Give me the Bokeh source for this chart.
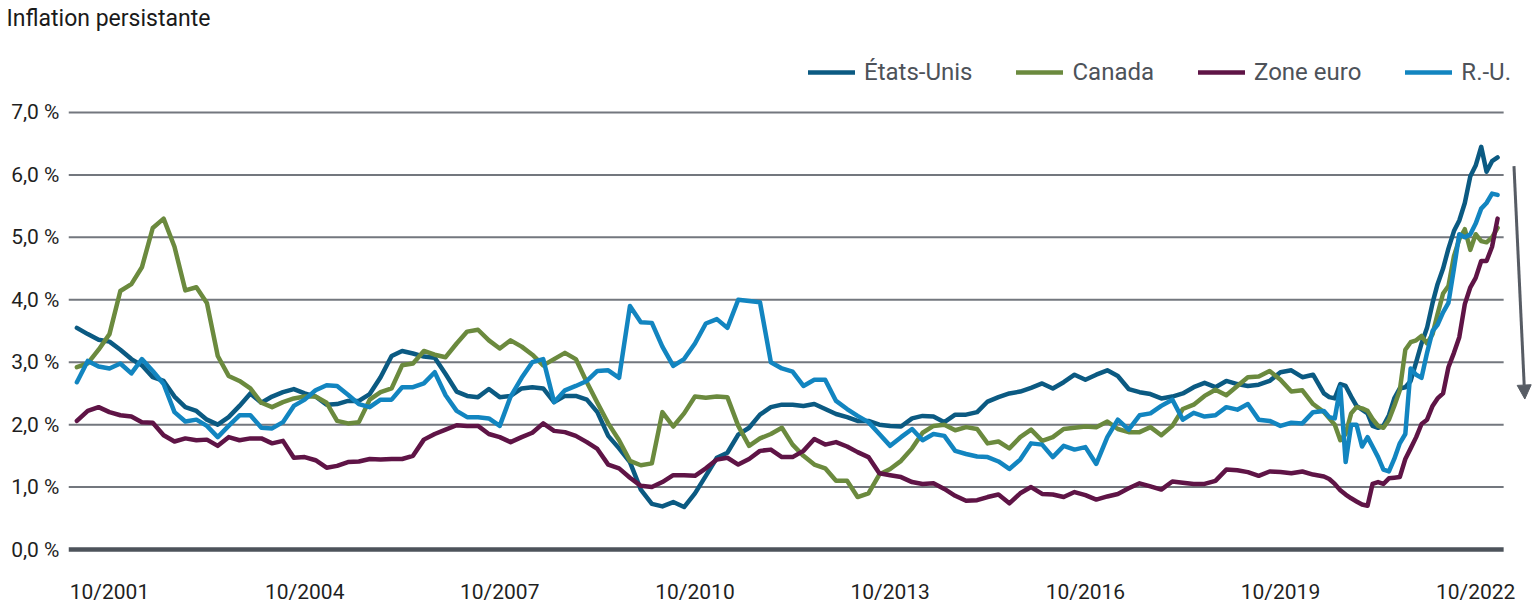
import pandas as pd
from bokeh.plotting import figure
from bokeh.models import (Range1d, FixedTicker, DatetimeTickFormatter,
                          Arrow, NormalHead)
from bokeh.embed import file_html
from bokeh.resources import INLINE

# dates: every 2 months up to 04/2020, then monthly to 02/2023
dates = (list(pd.date_range("2001-04-01", "2020-04-01", freq="2MS"))
         + list(pd.date_range("2020-06-01", "2023-02-01", freq="MS")))

etats_unis = [
    3.55, 3.45, 3.36, 3.33, 3.20, 3.05, 2.95, 2.76, 2.70, 2.45,
    2.28, 2.22, 2.08, 2.00, 2.12, 2.30, 2.50, 2.35, 2.45, 2.52,
    2.57, 2.50, 2.45, 2.32, 2.33, 2.38, 2.38, 2.49, 2.76, 3.10,
    3.18, 3.14, 3.09, 3.07, 2.81, 2.53, 2.46, 2.44, 2.57, 2.44,
    2.46, 2.58, 2.60, 2.58, 2.36, 2.46, 2.46, 2.40, 2.20, 1.82,
    1.62, 1.40, 0.96, 0.73, 0.69, 0.76, 0.68, 0.90, 1.18, 1.47,
    1.55, 1.84, 1.95, 2.16, 2.28, 2.32, 2.32, 2.30, 2.33, 2.25,
    2.17, 2.12, 2.06, 2.06, 2.00, 1.98, 1.97, 2.10, 2.14, 2.13,
    2.04, 2.16, 2.16, 2.20, 2.37, 2.44, 2.50, 2.53, 2.59, 2.66,
    2.58, 2.68, 2.80, 2.72, 2.80, 2.87, 2.78, 2.57, 2.52, 2.49,
    2.42, 2.45, 2.50, 2.60, 2.67, 2.60, 2.70, 2.65, 2.62, 2.64,
    2.70, 2.84, 2.87, 2.76, 2.80,
    2.50, 2.44, 2.42, 2.65, 2.62, 2.45, 2.30, 2.24, 2.18, 1.98,
    1.95, 1.98, 2.15, 2.42, 2.58, 2.60, 2.70, 3.00, 3.30, 3.55,
    3.95, 4.25, 4.50, 4.82, 5.10, 5.27, 5.55, 5.98, 6.15, 6.45,
    6.05, 6.22, 6.28,
]

canada = [
    2.92, 2.98, 3.20, 3.45, 4.14, 4.25, 4.52, 5.15, 5.30, 4.85,
    4.15, 4.20, 3.95, 3.10, 2.78, 2.70, 2.58, 2.35, 2.28, 2.36,
    2.42, 2.45, 2.45, 2.35, 2.06, 2.02, 2.04, 2.40, 2.52, 2.58,
    2.95, 2.98, 3.18, 3.12, 3.08, 3.30, 3.49, 3.52, 3.35, 3.22,
    3.35, 3.25, 3.12, 2.95, 3.05, 3.15, 3.05, 2.68, 2.35, 2.02,
    1.75, 1.42, 1.35, 1.38, 2.20, 1.97, 2.18, 2.45, 2.43, 2.45,
    2.44, 1.98, 1.66, 1.78, 1.85, 1.95, 1.68, 1.50, 1.36, 1.30,
    1.10, 1.10, 0.84, 0.90, 1.20, 1.29, 1.42, 1.62, 1.87, 1.98,
    2.00, 1.91, 1.96, 1.93, 1.70, 1.73, 1.62, 1.80, 1.92, 1.74,
    1.80, 1.93, 1.95, 1.97, 1.96, 2.05, 1.93, 1.88, 1.88, 1.96,
    1.83, 1.98, 2.25, 2.32, 2.46, 2.56, 2.47, 2.62, 2.76, 2.77,
    2.86, 2.72, 2.53, 2.55, 2.33,
    2.20, 2.10, 2.00, 1.75, 1.85, 2.18, 2.28, 2.26, 2.22, 2.09,
    1.98, 1.95, 2.08, 2.30, 2.55, 3.20, 3.32, 3.35, 3.42, 3.30,
    3.45, 3.77, 4.10, 4.22, 4.70, 4.97, 5.13, 4.80, 5.05, 4.94,
    4.92, 5.00, 5.15,
]

zone_euro = [
    2.06, 2.22, 2.28, 2.20, 2.15, 2.13, 2.04, 2.03, 1.83, 1.73,
    1.78, 1.75, 1.76, 1.66, 1.80, 1.75, 1.78, 1.78, 1.70, 1.74,
    1.47, 1.48, 1.43, 1.31, 1.34, 1.40, 1.41, 1.45, 1.44, 1.45,
    1.45, 1.50, 1.76, 1.85, 1.92, 1.99, 1.98, 1.98, 1.85, 1.80,
    1.72, 1.80, 1.87, 2.02, 1.90, 1.88, 1.82, 1.72, 1.61, 1.36,
    1.30, 1.15, 1.02, 1.00, 1.08, 1.19, 1.19, 1.18, 1.30, 1.44,
    1.47, 1.36, 1.45, 1.58, 1.60, 1.48, 1.48, 1.58, 1.77, 1.68,
    1.72, 1.65, 1.56, 1.48, 1.22, 1.19, 1.16, 1.08, 1.05, 1.06,
    0.97, 0.86, 0.78, 0.79, 0.84, 0.88, 0.74, 0.90, 1.00, 0.89,
    0.88, 0.84, 0.92, 0.87, 0.80, 0.85, 0.89, 0.98, 1.06, 1.01,
    0.96, 1.09, 1.07, 1.05, 1.05, 1.10, 1.28, 1.27, 1.24, 1.18,
    1.25, 1.24, 1.22, 1.25, 1.20,
    1.17, 1.13, 1.05, 0.95, 0.88, 0.82, 0.77, 0.72, 0.70, 1.05,
    1.08, 1.05, 1.14, 1.15, 1.16, 1.45, 1.62, 1.80, 2.01, 2.08,
    2.30, 2.42, 2.50, 2.92, 3.15, 3.40, 3.93, 4.20, 4.35, 4.62,
    4.62, 4.85, 5.30,
]

royaume_uni = [
    2.68, 3.02, 2.93, 2.90, 2.98, 2.82, 3.05, 2.86, 2.65, 2.20,
    2.05, 2.08, 1.98, 1.80, 1.98, 2.15, 2.15, 1.95, 1.94, 2.04,
    2.30, 2.40, 2.55, 2.63, 2.62, 2.48, 2.33, 2.28, 2.40, 2.40,
    2.60, 2.60, 2.66, 2.84, 2.47, 2.22, 2.12, 2.12, 2.10, 1.98,
    2.45, 2.75, 3.00, 3.05, 2.36, 2.55, 2.62, 2.70, 2.86, 2.87,
    2.75, 3.90, 3.64, 3.63, 3.25, 2.94, 3.05, 3.30, 3.62, 3.69,
    3.55, 4.00, 3.98, 3.96, 3.00, 2.90, 2.85, 2.62, 2.72, 2.72,
    2.38, 2.25, 2.14, 2.04, 1.85, 1.66, 1.80, 1.93, 1.75, 1.85,
    1.82, 1.58, 1.53, 1.49, 1.48, 1.41, 1.29, 1.44, 1.70, 1.68,
    1.48, 1.66, 1.60, 1.64, 1.37, 1.80, 2.08, 1.92, 2.15, 2.18,
    2.30, 2.40, 2.08, 2.19, 2.13, 2.15, 2.28, 2.24, 2.33, 2.08,
    2.06, 1.98, 2.03, 2.02, 2.20,
    2.22, 2.12, 2.10, 2.60, 1.40, 2.00, 2.00, 1.65, 1.80, 1.65,
    1.48, 1.28, 1.25, 1.45, 1.70, 1.85, 2.90, 2.80, 2.75, 3.15,
    3.50, 3.60, 3.80, 3.95, 4.50, 5.05, 5.00, 5.05, 5.22, 5.46,
    5.55, 5.70, 5.68,
]

series_names = ["États-Unis", "Canada", "Zone euro", "R.-U."]
series_values = [etats_unis, canada, zone_euro, royaume_uni]
series_colors = ["#0b5a82", "#6b8a3e", "#5f1446", "#1285c0"]

y_ticks = [0, 1, 2, 3, 4, 5, 6, 7]
y_tick_labels = ["0,0 %", "1,0 %", "2,0 %", "3,0 %", "4,0 %", "5,0 %", "6,0 %", "7,0 %"]
x_tick_dates = pd.to_datetime(["2001-10-01", "2004-10-01", "2007-10-01", "2010-10-01",
                               "2013-10-01", "2016-10-01", "2019-10-01", "2022-10-01"])

# horizontal extent of the frame and of the grid lines
x_start = pd.Timestamp("2001-02-13")
grid_end = pd.Timestamp("2023-03-07")
x_end = pd.Timestamp("2023-08-16")

FONT = "Roboto"
GRID = "#73777e"
ARROW = "#575c64"

p = figure(width=1532, height=614, x_axis_type="datetime",
           x_range=Range1d(x_start, x_end),
           y_range=Range1d(-0.112, 8.281),
           output_backend="svg", toolbar_location=None,
           min_border_left=68, min_border_right=0,
           min_border_top=32, min_border_bottom=58)

p.title.text = "Inflation persistante"
p.title.text_font = FONT
p.title.text_font_size = "23px"
p.title.text_font_style = "normal"
p.title.text_color = "#1a1a1a"
p.title.align = "left"
p.title.offset = -62
p.title.standoff = 2

# horizontal grid lines, stopping before the arrow
p.segment(x0=[x_start] * 7, x1=[grid_end] * 7, y0=y_ticks[1:], y1=y_ticks[1:],
          line_color=GRID, line_width=2)

for name, vals, col in zip(series_names, series_values, series_colors):
    p.line(dates, vals, color=col, line_width=4.5, line_join="round",
           line_cap="round", legend_label=name)

# baseline at zero
p.segment(x0=[x_start], x1=[grid_end], y0=[0], y1=[0],
          line_color="#4d535b", line_width=4.5)

# arrow on the right
p.add_layout(Arrow(end=NormalHead(size=14, fill_color=ARROW, line_color=ARROW),
                   x_start=pd.Timestamp("2023-05-04").timestamp() * 1000, y_start=6.14,
                   x_end=pd.Timestamp("2023-07-04").timestamp() * 1000, y_end=2.41,
                   line_color=ARROW, line_width=3))

p.xgrid.grid_line_color = None
p.ygrid.grid_line_color = None

p.yaxis.ticker = FixedTicker(ticks=y_ticks)
p.yaxis.major_label_overrides = dict(zip(y_ticks, y_tick_labels))
p.xaxis.ticker = FixedTicker(ticks=[d.timestamp() * 1000 for d in x_tick_dates])
p.xaxis.formatter = DatetimeTickFormatter(years="%m/%Y", months="%m/%Y", days="%m/%Y",
                                          hours="%m/%Y", minutes="%m/%Y")
for ax in (p.xaxis, p.yaxis):
    ax.axis_line_color = None
    ax.major_tick_line_color = None
    ax.minor_tick_line_color = None
    ax.major_tick_out = 0
    ax.major_tick_in = 0
    ax.minor_tick_out = 0
    ax.minor_tick_in = 0
    ax.axis_label_standoff = 0
    ax.major_label_text_font = FONT
    ax.major_label_text_font_size = "21px"
    ax.major_label_text_color = "#1f1f1f"
p.yaxis.major_label_standoff = 9
p.xaxis.major_label_standoff = 23

p.outline_line_color = None

leg = p.legend[0]
leg.orientation = "horizontal"
leg.location = (740, 470)
leg.padding = 0
leg.margin = 0
leg.spacing = 44
leg.glyph_width = 47
leg.glyph_height = 20
leg.label_standoff = 9
leg.label_text_font = FONT
leg.label_text_font_size = "24px"
leg.label_text_color = "#4d5259"
leg.background_fill_alpha = 0
leg.border_line_color = None

open("out.html", "w").write(file_html(p, INLINE))
